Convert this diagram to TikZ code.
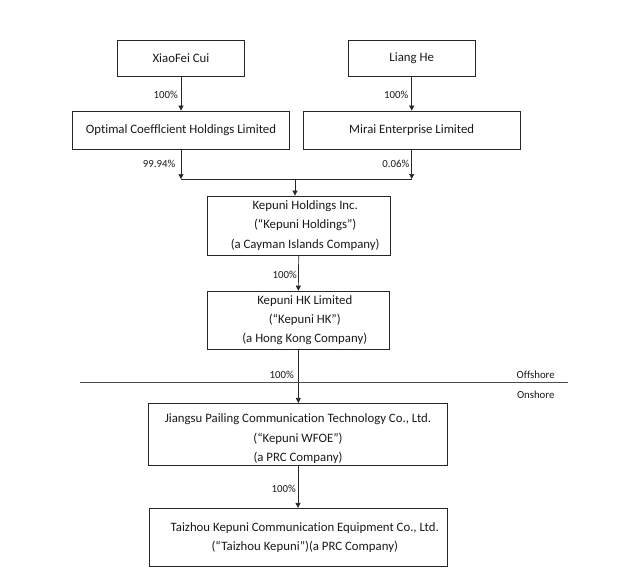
\documentclass[tikz,border=0pt]{standalone}
\usepackage{fontspec}
\setmainfont{Carlito}[Ligatures={NoCommon,TeX}]
\usetikzlibrary{arrows.meta}
\newcommand{\sh}{\hspace*{13pt}}
\begin{document}
\begin{tikzpicture}[x=1pt,y=-1pt,
  ent/.style={draw=black!85, line width=0.8pt, inner sep=0pt, align=center,
    font=\fontsize{12.8}{19.4}\selectfont, text=black!90},
  pct/.style={font=\fontsize{10.8}{12}\selectfont, text=black!90, inner sep=0pt, anchor=east},
  side/.style={font=\fontsize{10.8}{12}\selectfont, text=black!90, inner sep=0pt},
  conn/.style={draw=black!85, line width=0.7pt},
  arr/.style={conn, -{Triangle[width=5pt,length=5pt]}}]
\useasboundingbox (0,0) rectangle (626,581);
% boxes
\node[ent, minimum width=126.5pt, minimum height=36.5pt] (xc) at (181,58.3) {XiaoFei Cui};
\node[ent, minimum width=126.5pt, minimum height=36.5pt] (lh) at (411.7,58.3) {Liang He};
\node[ent, minimum width=216.5pt, minimum height=38pt] (oc) at (181,130) {Optimal Coefflcient Holdings Limited};
\node[ent, minimum width=216.5pt, minimum height=38pt] (me) at (411.7,130) {Mirai Enterprise Limited};
\node[ent, minimum width=182.5pt, minimum height=59pt] (kh) at (298.7,225.5) {\sh Kepuni Holdings Inc.\\\sh (“Kepuni Holdings”)\\\sh (a Cayman Islands Company)};
\node[ent, minimum width=181.5pt, minimum height=58.3pt] (khk) at (298.3,320.2) {\sh Kepuni HK Limited\\\sh (“Kepuni HK”)\\\sh (a Hong Kong Company)};
\node[ent, minimum width=299.4pt, minimum height=62.4pt] (wf) at (298,434.5) {\rule{0pt}{17.5pt}Jiangsu Pailing Communication Technology Co., Ltd.\\(“Kepuni WFOE”)\\(a PRC Company)};
\node[ent, minimum width=298pt, minimum height=58.4pt] (tz) at (298.3,537.5) {\sh Taizhou Kepuni Communication Equipment Co., Ltd.\\\sh (“Taizhou Kepuni”)(a PRC Company)};
% junction
\coordinate (jl) at (181,179);
\coordinate (jr) at (411.7,179);
\coordinate (jm) at (295,179);
\coordinate (ll) at (80,382.7);
\coordinate (lr) at (568,382.7);
% connectors
\draw[arr] (xc.south) -- (oc.north);
\draw[arr] (lh.south) -- (me.north);
\draw[arr] (oc.south) -- (jl);
\draw[arr] (me.south) -- (jr);
\draw[conn] (jl) -- (jr);
\draw[arr] (jm) -- (jm |- kh.north);
\draw[arr] (kh.south) -- (khk.north);
\draw[arr] (khk.south) -- (khk.south |- wf.north);
\draw[arr] (wf.south) -- (wf.south |- tz.north);
\draw[conn, draw=black!70] (ll) -- (lr);
% labels
\node[pct] (p1) at (178,95) {100\%};
\node[pct] (p2) at (408.5,95) {100\%};
\node[pct] (p3) at (175.5,164) {99.94\%};
\node[pct] (p4) at (409.5,164) {0.06\%};
\node[pct] (p5) at (297,275) {100\%};
\node[pct] (p6) at (294,375) {100\%};
\node[pct] (p7) at (296,489) {100\%};
\node[side] (off) at (535.7,375) {Offshore};
\node[side] (on) at (535.7,394.3) {Onshore};
\end{tikzpicture}
\end{document}
